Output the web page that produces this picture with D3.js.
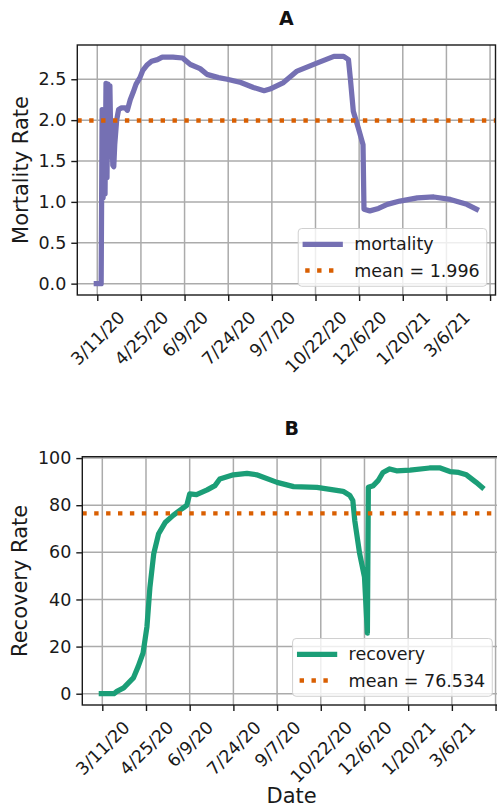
<!DOCTYPE html>
<html>
<head>
<meta charset="utf-8">
<script src="https://cdn.jsdelivr.net/npm/d3@7"></script>
<style>
  body { margin: 0; background: #fff; }
  svg { display: block; font-family: "DejaVu Sans", sans-serif; }
</style>
</head>
<body>
<svg id="chart" width="497" height="808"></svg>
<script>
(function () {
    "use strict";

    // values (dates are m/d of 2020-2021)
    var mortalityDates = ["2020-03-10", "2020-03-15", "2020-03-16", "2020-03-17", "2020-03-18", "2020-03-19",
        "2020-03-20", "2020-03-21", "2020-03-22", "2020-03-23", "2020-03-24", "2020-03-25", "2020-03-26",
        "2020-03-27", "2020-03-28", "2020-03-29", "2020-03-31", "2020-04-02", "2020-04-05", "2020-04-09",
        "2020-04-11", "2020-04-14", "2020-04-17", "2020-04-20", "2020-04-24", "2020-04-27", "2020-05-01",
        "2020-05-06", "2020-05-12", "2020-05-17", "2020-05-28", "2020-06-07", "2020-06-10", "2020-06-15",
        "2020-06-25", "2020-07-02", "2020-07-14", "2020-07-23", "2020-08-06", "2020-08-19", "2020-08-30",
        "2020-09-05", "2020-09-19", "2020-10-03", "2020-10-24", "2020-11-10", "2020-11-20", "2020-11-25",
        "2020-11-27", "2020-11-30", "2020-12-05", "2020-12-10", "2020-12-11", "2020-12-17", "2020-12-26",
        "2021-01-04", "2021-01-17", "2021-02-04", "2021-02-21", "2021-03-10", "2021-03-27", "2021-04-06"];
    var mortalityValues = [0, 0, 2.13, 1.05, 2.1, 1.1,
        2.45, 1.3, 2.44, 1.55, 2.42, 1.7, 1.95,
        1.45, 1.43, 1.7, 2.0, 2.13, 2.15, 2.15,
        2.12, 2.25, 2.34, 2.44, 2.52, 2.61, 2.67,
        2.72, 2.74, 2.77, 2.77, 2.76, 2.73, 2.68,
        2.63, 2.56, 2.52, 2.50, 2.46, 2.40, 2.36,
        2.38, 2.46, 2.60, 2.70, 2.78, 2.78, 2.74,
        2.50, 2.11, 1.91, 1.70, 0.91, 0.89, 0.92,
        0.97, 1.01, 1.05, 1.06, 1.03, 0.97, 0.91];

    var recoveryDates = ["2020-03-10", "2020-03-23", "2020-03-26", "2020-04-02", "2020-04-07", "2020-04-12",
        "2020-04-17", "2020-04-22", "2020-04-26", "2020-04-29", "2020-05-03", "2020-05-08", "2020-05-15",
        "2020-05-23", "2020-06-01", "2020-06-06", "2020-06-09", "2020-06-16", "2020-06-27", "2020-07-05",
        "2020-07-10", "2020-07-24", "2020-08-07", "2020-08-17", "2020-09-07", "2020-09-24", "2020-10-18",
        "2020-11-04", "2020-11-14", "2020-11-21", "2020-11-24", "2020-11-26", "2020-12-01", "2020-12-06",
        "2020-12-09", "2020-12-10", "2020-12-15", "2020-12-20", "2020-12-25", "2021-01-01", "2021-01-08",
        "2021-01-22", "2021-02-11", "2021-02-22", "2021-03-04", "2021-03-13", "2021-03-21", "2021-03-31",
        "2021-04-06"];
    var recoveryValues = [0, 0, 1, 2.5, 4.6, 6.7,
        11.6, 17.3, 28.5, 45, 59.5, 67.9, 72.8,
        75.7, 78.5, 79.9, 84.8, 84.5, 86.5, 88.3,
        91.1, 92.9, 93.5, 92.9, 89.7, 87.9, 87.6,
        86.5, 85.9, 84.1, 82, 73.5, 59.5, 49.6,
        25.7, 87.6, 88.3, 90.4, 93.9, 95.4, 94.6,
        94.9, 95.8, 95.8, 94.3, 93.9, 92.9, 89.7,
        87.6];

    var mortalityMean = 1.996;
    var recoveryMean = 76.534;

    var xTickDates = ["2020-03-11", "2020-04-25", "2020-06-09", "2020-07-24", "2020-09-07",
        "2020-10-22", "2020-12-06", "2021-01-20", "2021-03-06", "2021-04-20"];
    var xTickLabels = ["3/11/20", "4/25/20", "6/9/20", "7/24/20", "9/7/20",
        "10/22/20", "12/6/20", "1/20/21", "3/6/21", ""];
    var mortalityTicks = [0, 0.5, 1, 1.5, 2, 2.5];
    var recoveryTicks = [0, 20, 40, 60, 80, 100];

    var purple = "#7570b3", green = "#1b9e77", orange = "#d95f02";
    var tickFont = 17.5, labelFont = 21;

    var parseDate = d3.timeParse("%Y-%m-%d");
    var svg = d3.select("#chart");

    // x range shared by both panels, padded 5% like matplotlib
    var allDates = mortalityDates.concat(recoveryDates).map(parseDate);
    var ext = d3.extent(allDates);
    var xPad = (ext[1] - ext[0]) * 0.05;
    var xDomain = [new Date(+ext[0] - xPad), new Date(+ext[1] + xPad)];

    function padExtent(values) {
        var e = d3.extent(values);
        var p = (e[1] - e[0]) * 0.05;
        return [e[0] - p, e[1] + p];
    }

    drawPanel({
        left: 77.3, top: 45, width: 418.2, height: 250,
        title: "A", titleY: 25,
        ylabel: "Mortality Rate", ylabelX: 28,
        dates: mortalityDates, values: mortalityValues,
        mean: mortalityMean, ticks: mortalityTicks, fmt: d3.format(".1f"),
        color: purple, name: "mortality"
    });

    drawPanel({
        left: 82.3, top: 456.7, width: 418.7, height: 248.3,
        title: "B", titleY: 435,
        ylabel: "Recovery Rate", ylabelX: 27,
        dates: recoveryDates, values: recoveryValues,
        mean: recoveryMean, ticks: recoveryTicks, fmt: d3.format("d"),
        color: green, name: "recovery",
        xlabel: "Date", xlabelY: 803
    });

    function drawPanel(p) {
        var g = svg.append("g");
        var bottom = p.top + p.height, right = p.left + p.width;

        var x = d3.scaleTime().domain(xDomain).range([p.left, right]);
        var y = d3.scaleLinear().domain(padExtent(p.values)).range([bottom, p.top]);
        var tickDates = xTickDates.map(parseDate);

        // grid
        g.selectAll(".vgrid").data(tickDates).enter().append("line")
            .attr("x1", function (d) { return x(d); })
            .attr("x2", function (d) { return x(d); })
            .attr("y1", p.top).attr("y2", bottom)
            .attr("stroke", "#ababab").attr("stroke-width", 1.5);
        g.selectAll(".hgrid").data(p.ticks).enter().append("line")
            .attr("x1", p.left).attr("x2", right)
            .attr("y1", function (d) { return y(d); })
            .attr("y2", function (d) { return y(d); })
            .attr("stroke", "#ababab").attr("stroke-width", 1.5);

        // data line
        var pts = p.dates.map(function (d, i) { return { date: parseDate(d), value: p.values[i] }; });
        var line = d3.line().x(function (d) { return x(d.date); }).y(function (d) { return y(d.value); });
        g.append("path").datum(pts)
            .attr("d", line)
            .attr("fill", "none")
            .attr("stroke", p.color)
            .attr("stroke-width", 5.25)
            .attr("stroke-linejoin", "round")
            .attr("stroke-linecap", "square");

        // mean line across the axes
        g.append("line")
            .attr("x1", p.left).attr("x2", right)
            .attr("y1", y(p.mean)).attr("y2", y(p.mean))
            .attr("stroke", orange).attr("stroke-width", 4.4)
            .attr("stroke-dasharray", "4.4,7.5");

        // spines
        g.append("rect")
            .attr("x", p.left).attr("y", p.top)
            .attr("width", p.width).attr("height", p.height)
            .attr("fill", "none").attr("stroke", "#1a1a1a").attr("stroke-width", 1.4);

        // x axis
        var xAxis = g.append("g")
            .attr("transform", "translate(0," + bottom + ")")
            .call(d3.axisBottom(x).tickValues(tickDates)
                .tickFormat(function (d, i) { return xTickLabels[i]; })
                .tickSize(6).tickPadding(6));
        xAxis.select(".domain").remove();
        xAxis.selectAll(".tick line").attr("stroke", "#1a1a1a").attr("stroke-width", 1.4);
        xAxis.selectAll("text")
            .attr("font-family", "DejaVu Sans")
            .attr("font-size", tickFont)
            .attr("fill", "#1a1a1a")
            .attr("text-anchor", "middle")
            .attr("y", 0).attr("dy", "0.35em")
            .attr("transform", function () {
                var w = this.getComputedTextLength();
                var cy = 12 + (w + tickFont * 1.16) / (2 * Math.SQRT2);
                return "translate(0," + cy + ") rotate(-45)";
            });

        // y axis
        var yAxis = g.append("g")
            .attr("transform", "translate(" + p.left + ",0)")
            .call(d3.axisLeft(y).tickValues(p.ticks).tickFormat(p.fmt)
                .tickSize(6).tickPadding(5));
        yAxis.select(".domain").remove();
        yAxis.selectAll(".tick line").attr("stroke", "#1a1a1a").attr("stroke-width", 1.4);
        yAxis.selectAll("text")
            .attr("font-family", "DejaVu Sans")
            .attr("font-size", tickFont)
            .attr("fill", "#1a1a1a");

        // title and labels
        g.append("text")
            .attr("x", (p.left + right) / 2).attr("y", p.titleY)
            .attr("text-anchor", "middle")
            .attr("font-size", 19).attr("font-weight", "bold")
            .attr("fill", "#111")
            .text(p.title);

        g.append("text")
            .attr("transform", "translate(" + p.ylabelX + "," + (p.top + p.height / 2) + ") rotate(-90)")
            .attr("text-anchor", "middle")
            .attr("font-size", labelFont)
            .attr("fill", "#1a1a1a")
            .text(p.ylabel);

        if (p.xlabel) {
            g.append("text")
                .attr("x", (p.left + right) / 2).attr("y", p.xlabelY)
                .attr("text-anchor", "middle")
                .attr("font-size", labelFont)
                .attr("fill", "#1a1a1a")
                .text(p.xlabel);
        }

        // legend, lower right
        var items = [
            { label: p.name, color: p.color, dotted: false },
            { label: "mean = " + p.mean, color: orange, dotted: true }
        ];
        var fs = tickFont;
        var leg = g.append("g");
        var box = leg.append("rect");
        var texts = leg.selectAll(".lt").data(items).enter().append("text")
            .attr("font-size", fs)
            .attr("fill", "#1a1a1a")
            .attr("dy", "0.35em")
            .text(function (d) { return d.label; });
        var textW = d3.max(texts.nodes(), function (n) { return n.getComputedTextLength(); });
        var pad = 0.4 * fs, handle = 2 * fs, gap = 0.8 * fs, rowH = fs, spacing = 0.5 * fs;
        var boxW = pad + handle + gap + textW + pad;
        var boxH = pad * 2 + rowH * 2 + spacing;
        var bx = right - 0.5 * fs - boxW, by = bottom - 0.5 * fs - boxH;
        box.attr("x", bx).attr("y", by).attr("width", boxW).attr("height", boxH)
            .attr("rx", 3.5)
            .attr("fill", "#fff").attr("fill-opacity", 0.8)
            .attr("stroke", "#d0d0d0").attr("stroke-width", 1);
        function rowY(i) { return by + pad + rowH / 2 + i * (rowH + spacing); }
        texts.attr("x", bx + pad + handle + gap).attr("y", function (d, i) { return rowY(i); });
        leg.selectAll(".lh").data(items).enter().append("line")
            .attr("x1", bx + pad).attr("x2", bx + pad + handle)
            .attr("y1", function (d, i) { return rowY(i); })
            .attr("y2", function (d, i) { return rowY(i); })
            .attr("stroke", function (d) { return d.color; })
            .attr("stroke-width", function (d) { return d.dotted ? 4.4 : 5.25; })
            .attr("stroke-dasharray", function (d) { return d.dotted ? "4.4,7.5" : null; })
            .attr("stroke-linecap", function (d) { return d.dotted ? "butt" : "square"; });
    }
})();
</script>
</body>
</html>
